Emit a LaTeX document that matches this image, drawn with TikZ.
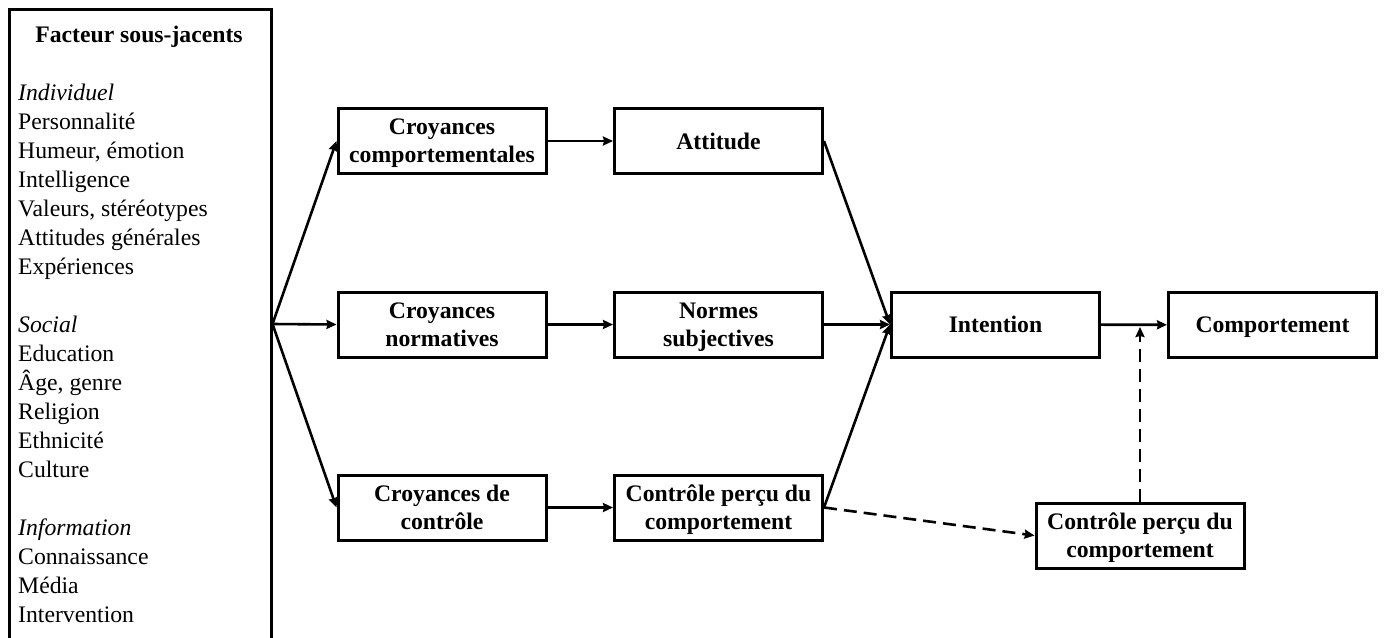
\documentclass[tikz,border=0pt]{standalone}
\usepackage{fontspec}
\setmainfont{Liberation Serif}
\usetikzlibrary{arrows.meta}
\begin{document}
\begin{tikzpicture}[x=1pt,y=-1pt,
  box/.style={draw,line width=3pt,minimum width=208pt,minimum height=65pt,inner sep=0pt,align=center,text depth=0pt,font=\fontsize{23.7}{28}\selectfont\bfseries},
  conn/.style={line width=2.6pt,-{Stealth[length=10pt,width=9pt,inset=1pt]}},
  dconn/.style={conn,dash pattern=on 13pt off 7pt},
  plain/.style={inner sep=0pt,font=\fontsize{23.7}{29}\selectfont}]
\useasboundingbox (0,0) rectangle (1386,637);
% left box
\node[draw,line width=3pt,minimum width=261.5pt,minimum height=630pt,inner sep=0pt] (fact) at (140.25,324) {};
\node[plain,anchor=base,font=\fontsize{23.7}{29}\selectfont\bfseries] (title) at (139,42) {Facteur sous-jacents};
\node[plain,anchor=base west] (list) at (18,100) {\begin{tabular}[t]{@{}l@{}}
\textit{Individuel}\\
Personnalité\\
Humeur, émotion\\
Intelligence\\
Valeurs, stéréotypes\\
Attitudes générales\\
Expériences\\
\\
\textit{Social}\\
Education\\
Âge, genre\\
Religion\\
Ethnicité\\
Culture\\
\\
\textit{Information}\\
Connaissance\\
Média\\
Intervention
\end{tabular}};
% boxes
\node[box] (cb) at (442,141) {Croyances\\comportementales};
\node[box] (att) at (718.5,141) {Attitude};
\node[box] (cn) at (442,324.5) {Croyances\\normatives};
\node[box] (ns) at (718.5,324.5) {Normes\\subjectives};
\node[box] (cc) at (442,507.5) {Croyances de\\contrôle};
\node[box] (cp) at (718.5,507.5) {Contrôle perçu du\\comportement};
\node[box] (int) at (995.5,324.5) {Intention};
\node[box] (comp) at (1272.5,325) {Comportement};
\node[box] (cp2) at (1140,535.5) {Contrôle perçu du\\comportement};
\coordinate (dtip) at (1140,327);
% connectors
\draw[conn] (fact.east) -- (cb.west);
\draw[conn] (fact.east) -- (cn.west);
\draw[conn] (fact.east) -- (cc.west);
\draw[conn] (cb) -- (att);
\draw[conn] (cn) -- (ns);
\draw[conn] (cc) -- (cp);
\draw[conn] (att.east) -- (int.west);
\draw[conn] (ns.east) -- (int.west);
\draw[conn] (cp.east) -- (int.west);
\draw[conn] (int) -- (comp);
\draw[dconn] (cp.east) -- (cp2.west);
\draw[dconn] (cp2.north) -- (dtip);
\end{tikzpicture}
\end{document}
